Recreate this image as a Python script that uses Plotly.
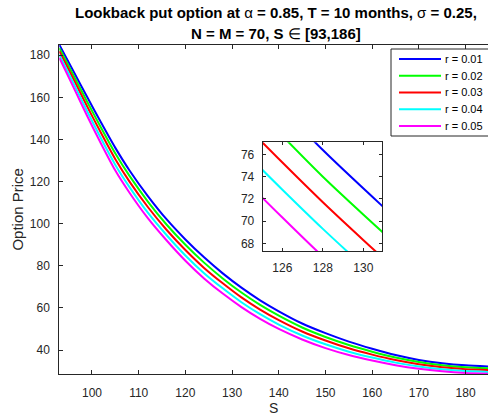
import plotly.graph_objects as go

# ---- data ----
S = [93, 96, 99, 102, 105, 108, 112, 116, 120, 124, 128, 132, 136, 140, 145,
     150, 155, 160, 165, 170, 175, 180, 186]
r_001 = [185.0, 172.5, 160.0, 147.8, 136.0, 125.4, 113.0, 102.0, 92.5, 84.0, 76.4,
         69.6, 63.6, 58.4, 52.6, 48.0, 44.0, 40.6, 37.6, 35.3, 33.7, 32.7, 32.1]
r_002 = [183.4, 170.6, 157.8, 145.3, 133.3, 122.8, 110.4, 99.5, 90.0, 81.5, 74.0,
         67.3, 61.4, 56.3, 50.7, 46.2, 42.4, 39.2, 36.4, 34.3, 32.8, 31.8, 31.2]
r_003 = [181.9, 168.8, 155.5, 142.8, 130.6, 120.1, 107.8, 97.0, 87.5, 79.0, 71.7,
         65.0, 59.2, 54.2, 48.8, 44.5, 40.8, 37.8, 35.2, 33.2, 31.8, 30.9, 30.4]
r_004 = [180.3, 166.9, 153.3, 140.2, 127.9, 117.5, 105.1, 94.5, 84.9, 76.5, 69.3,
         62.7, 57.0, 52.1, 46.9, 42.7, 39.2, 36.4, 34.0, 32.2, 30.9, 30.0, 29.5]
r_005 = [178.8, 165.0, 151.0, 137.7, 125.2, 114.8, 102.5, 92.0, 82.4, 74.0, 66.8,
         60.4, 54.8, 50.0, 45.0, 40.9, 37.6, 35.0, 32.8, 31.1, 29.9, 29.1, 28.6]

series_names = ["r = 0.01", "r = 0.02", "r = 0.03", "r = 0.04", "r = 0.05"]
series_values = [r_001, r_002, r_003, r_004, r_005]
colors = ["#0000FF", "#00FF00", "#FF0000", "#00FFFF", "#FF00FF"]

x_ticks_main = [100, 110, 120, 130, 140, 150, 160, 170, 180]
y_ticks_main = [40, 60, 80, 100, 120, 140, 160, 180]
x_ticks_inset = [126, 128, 130]
y_ticks_inset = [68, 70, 72, 74, 76]

title_lines = ["<b>Lookback put option at </b>α<b> = 0.85, T = 10 months, </b>σ<b> = 0.25,</b>",
               "<b>N = M = 70, S </b>∈<b> [93,186]</b>"]

FONT = "Liberation Sans, Arial, Helvetica, sans-serif"
AX = "#262626"
W, H = 488, 416

fig = go.Figure()
for name, vals, c in zip(series_names, series_values, colors):
    fig.add_trace(go.Scatter(x=S, y=vals, mode="lines", name=name, showlegend=False,
                             line=dict(color=c, width=2, shape="spline", smoothing=0.6),
                             xaxis="x", yaxis="y"))
for name, vals, c in zip(series_names, series_values, colors):
    fig.add_trace(go.Scatter(x=S, y=vals, mode="lines", name=name, showlegend=False,
                             line=dict(color=c, width=2, shape="spline", smoothing=0.6),
                             xaxis="x2", yaxis="y2"))

axis_common = dict(showgrid=False, zeroline=False, showline=True, linecolor=AX, linewidth=1,
                   ticks="inside", tickcolor=AX, tickfont=dict(family=FONT, size=12, color=AX))

fig.update_layout(
    width=W, height=H,
    margin=dict(l=0, r=0, t=0, b=0),
    paper_bgcolor="white", plot_bgcolor="white",
    font=dict(family=FONT, color=AX),
    xaxis=dict(axis_common, domain=[59.3 / W, 1.0], range=[93, 184.8], tickvals=x_ticks_main,
               ticklen=4, mirror="ticks", ticklabelstandoff=8,
               title=dict(text="S", font=dict(family=FONT, size=14, color=AX), standoff=4)),
    yaxis=dict(axis_common, domain=[(H - 374) / H, (H - 44.7) / H], range=[28.6, 185.0],
               tickvals=y_ticks_main, ticklen=4, mirror=False, ticklabelstandoff=6,
               title=dict(text="Option Price", font=dict(family=FONT, size=15, color=AX), standoff=2)),
    xaxis2=dict(axis_common, domain=[262.7 / W, 382 / W], range=[125.03, 130.92],
                tickvals=x_ticks_inset, ticklen=3, mirror="ticks", anchor="y2", ticklabelstandoff=5),
    yaxis2=dict(axis_common, domain=[(H - 251.3) / H, (H - 142.3) / H], range=[67.28, 77.1],
                tickvals=y_ticks_inset, ticklen=3, mirror="ticks", anchor="x2", ticklabelstandoff=5),
    showlegend=False,
)

# title (two lines)
for txt, yc in zip(title_lines, [12.7, 33.3]):
    fig.add_annotation(text=txt, xref="paper", yref="paper", x=276 / W, y=1 - yc / H,
                       xanchor="center", yanchor="middle", showarrow=False,
                       font=dict(family=FONT, size=15, color="black"))

# legend box (drawn to match the reference's boxed legend)
leg_left, leg_top, leg_bottom = 391, 49, 136
fig.add_shape(type="rect", xref="paper", yref="paper",
              x0=leg_left / W, x1=492 / W, y0=1 - leg_bottom / H, y1=1 - leg_top / H,
              line=dict(color=AX, width=1), fillcolor="white", layer="above")
for i, (name, c) in enumerate(zip(series_names, colors)):
    yc = 59 + i * 16.75
    fig.add_shape(type="line", xref="paper", yref="paper",
                  x0=399 / W, x1=441 / W, y0=1 - yc / H, y1=1 - yc / H,
                  line=dict(color=c, width=2), layer="above")
    fig.add_annotation(text=name, xref="paper", yref="paper", x=443 / W, y=1 - yc / H,
                       xanchor="left", yanchor="middle", showarrow=False,
                       font=dict(family=FONT, size=11, color="black"))

fig.write_html("out.html")
